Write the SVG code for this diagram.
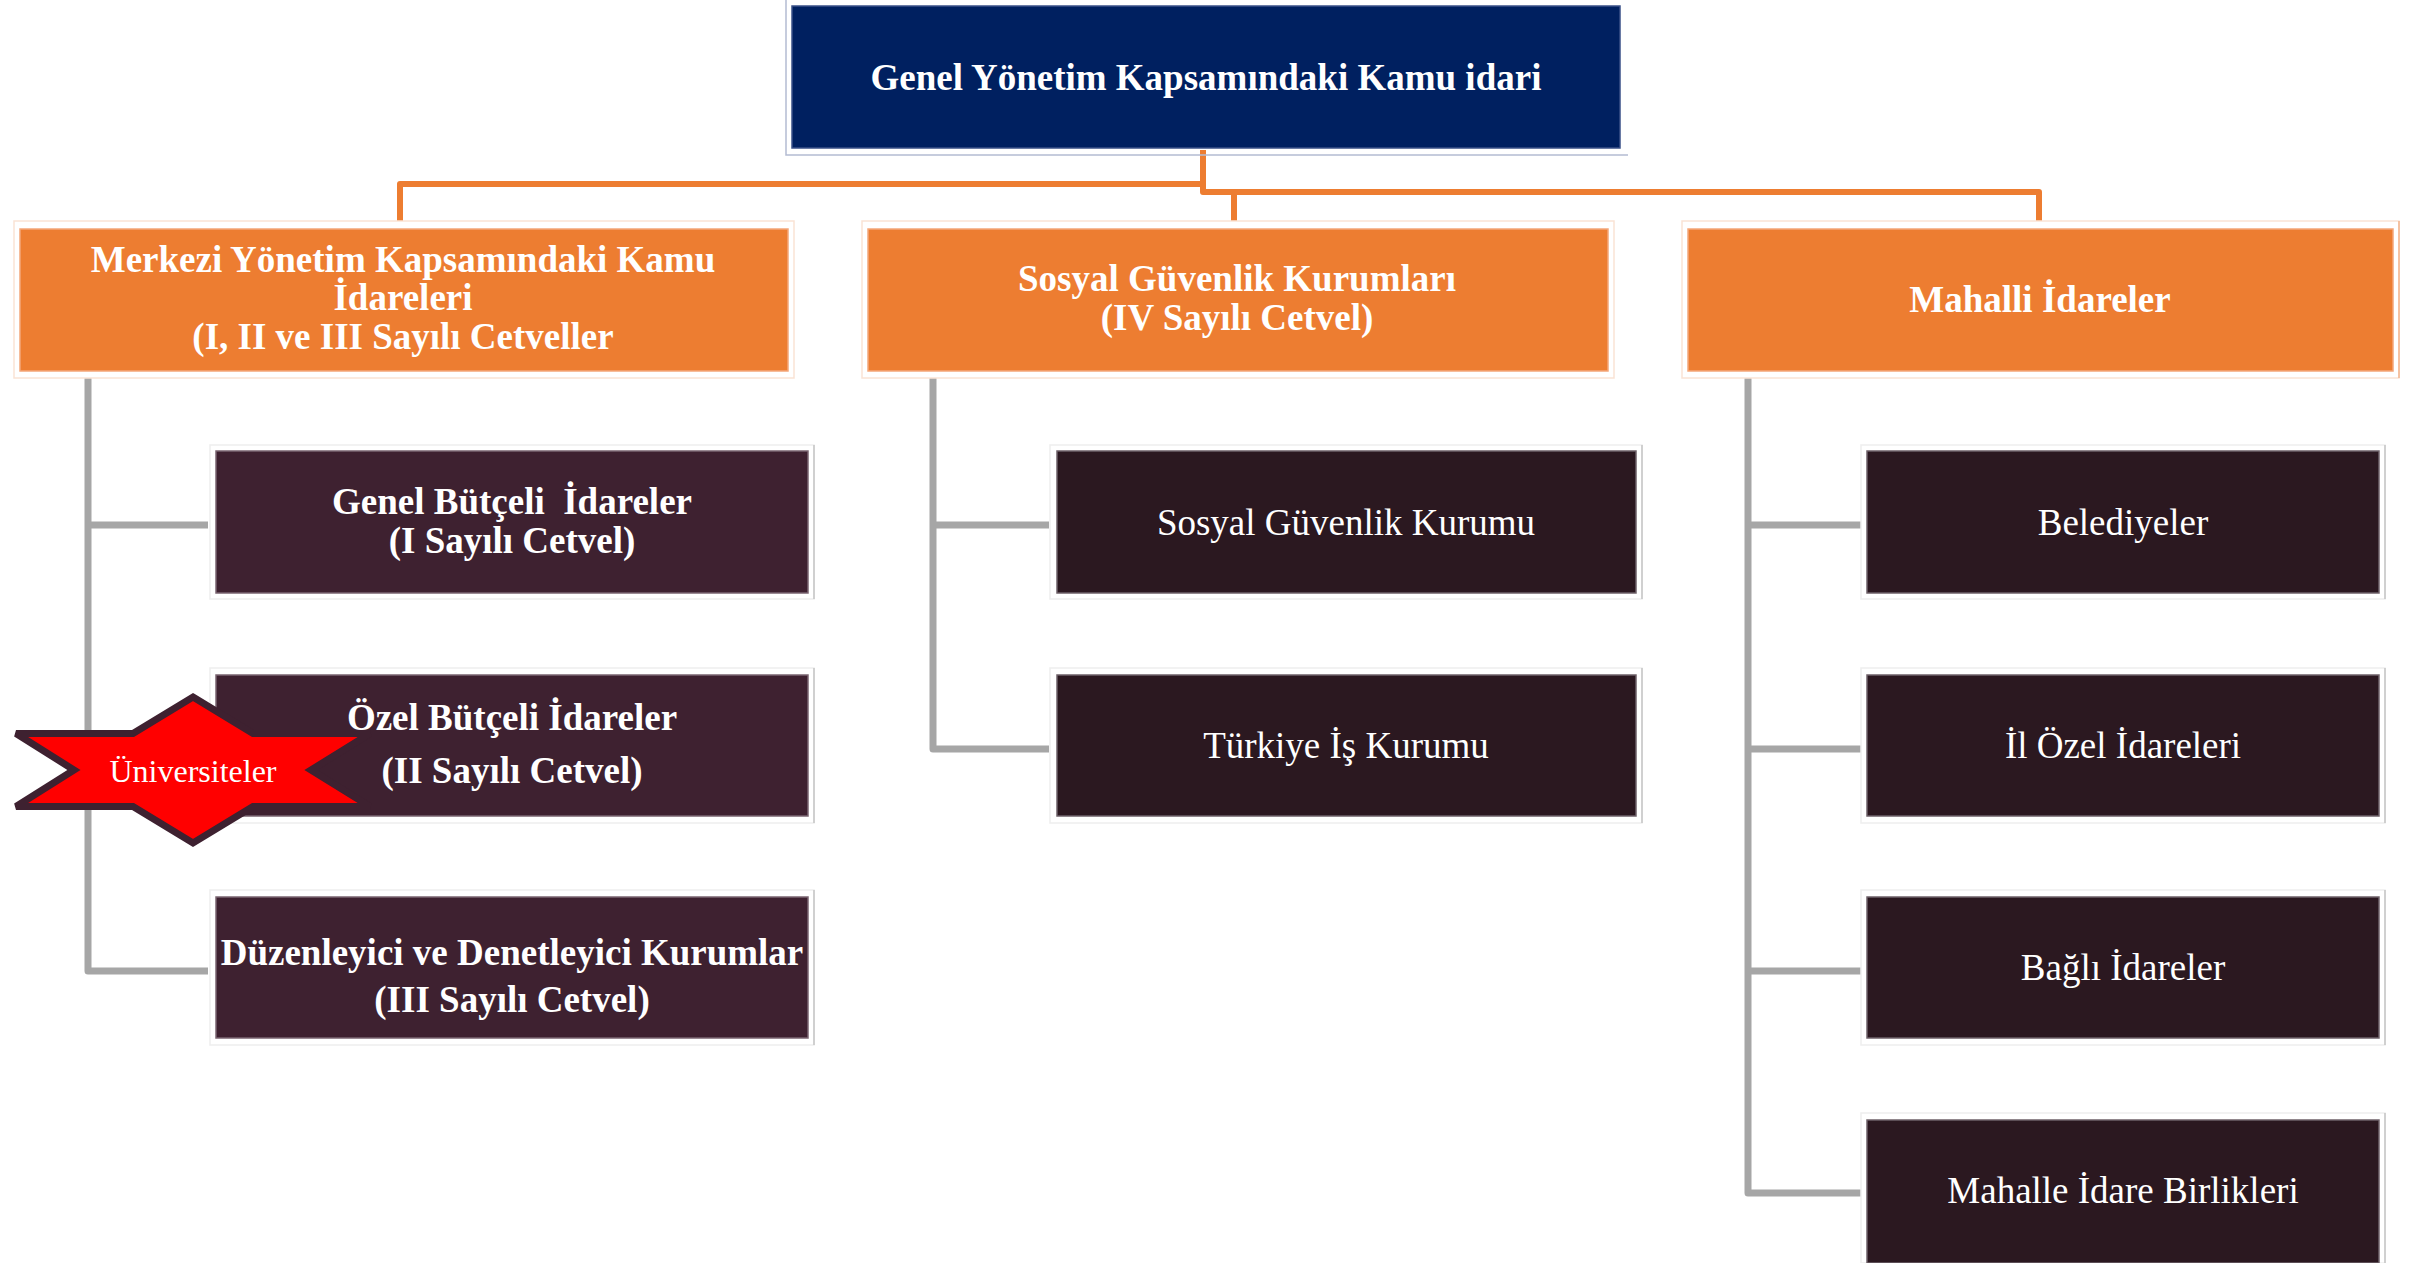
<svg xmlns="http://www.w3.org/2000/svg" width="2422" height="1263" viewBox="0 0 2422 1263">
  <style>
    text { font-family: "Liberation Serif", "Times New Roman", serif; fill: #ffffff; text-anchor: middle; }
    .b { font-weight: bold; font-size: 37px; }
    .r { font-size: 37px; }
    .navy { fill: #002060; stroke: #3A5088; stroke-width: 1.5; }
    .orange { fill: #ED7D31; stroke: #F4A77A; stroke-width: 1.5; }
    .plum { fill: #3E2130; stroke: #7A6470; stroke-width: 1.5; }
    .dark { fill: #2B1820; stroke: #6E6068; stroke-width: 1.5; }
    .frame { fill: none; stroke-width: 1.5; }
    .fo { stroke: #FAE3D5; }
    .fg { stroke: #EEEEEE; }
    .fn { stroke: #B4BCD2; }
    .edge-o { stroke: #F3B58E; stroke-width: 1.5; }
    .edge-g { stroke: #C4C4C4; stroke-width: 1.5; }
    .top-link { fill: none; stroke: #ED7D31; stroke-width: 6; stroke-linejoin: round; }
    .sub-link { fill: none; stroke: #A6A6A6; stroke-width: 7; stroke-linejoin: round; }
  </style>

  <rect width="2422" height="1263" fill="#ffffff"/>

  <!-- connectors -->
  <g id="connectors">
    <path class="top-link" d="M400,221 V184 H1203"/>
    <path class="top-link" d="M1203,150 V192 H2039 V221"/>
    <path class="top-link" d="M1234,192 V221"/>

    <path class="sub-link" d="M88,378 V971 H208"/>
    <path class="sub-link" d="M88,525 H208"/>
    <path class="sub-link" d="M88,749 H208"/>

    <path class="sub-link" d="M933,378 V749 H1049"/>
    <path class="sub-link" d="M933,525 H1049"/>

    <path class="sub-link" d="M1748,378 V1193 H1861"/>
    <path class="sub-link" d="M1748,525 H1861"/>
    <path class="sub-link" d="M1748,749 H1861"/>
    <path class="sub-link" d="M1748,971 H1861"/>
  </g>

  <!-- root -->
  <g id="genel-yonetim">
    <path class="frame fn" d="M786,0 V155 H1628"/>
    <rect class="navy" x="792" y="6" width="828" height="142"/>
    <text class="b" x="1206" y="90">Genel Yönetim Kapsamındaki Kamu idari</text>
  </g>

  <!-- second level -->
  <g id="merkezi-yonetim">
    <rect class="frame fo" x="14" y="221" width="780" height="157"/>
    <rect class="orange" x="20" y="229" width="768" height="142"/>
    <text class="b" x="403" y="272">Merkezi Yönetim Kapsamındaki Kamu</text>
    <text class="b" x="403" y="310">İdareleri</text>
    <text class="b" x="403" y="349">(I, II ve III Sayılı Cetveller</text>
  </g>

  <g id="sosyal-guvenlik-kurumlari">
    <rect class="frame fo" x="862" y="221" width="752" height="157"/>
    <rect class="orange" x="868" y="229" width="740" height="142"/>
    <text class="b" x="1237" y="291">Sosyal Güvenlik Kurumları</text>
    <text class="b" x="1237" y="330">(IV Sayılı Cetvel)</text>
  </g>

  <g id="mahalli-idareler">
    <rect class="frame fo" x="1682" y="221" width="717" height="157"/>
    <line class="edge-o" x1="2399" y1="221" x2="2399" y2="378"/>
    <rect class="orange" x="1688" y="229" width="705" height="142"/>
    <text class="b" x="2040" y="312">Mahalli İdareler</text>
  </g>

  <!-- central government units -->
  <g id="genel-butceli">
    <rect class="frame fg" x="210" y="445" width="604" height="154"/>
    <line class="edge-g" x1="814" y1="445" x2="814" y2="599"/>
    <rect class="plum" x="216" y="451" width="592" height="142"/>
    <text class="b" x="512" y="514" xml:space="preserve">Genel Bütçeli  İdareler</text>
    <text class="b" x="512" y="553">(I Sayılı Cetvel)</text>
  </g>

  <g id="ozel-butceli">
    <rect class="frame fg" x="210" y="668" width="604" height="155"/>
    <line class="edge-g" x1="814" y1="668" x2="814" y2="823"/>
    <rect class="plum" x="216" y="675" width="592" height="141"/>
    <text class="b" x="512" y="730">Özel Bütçeli İdareler</text>
    <text class="b" x="512" y="783">(II Sayılı Cetvel)</text>
  </g>

  <g id="duzenleyici-denetleyici">
    <rect class="frame fg" x="210" y="890" width="604" height="155"/>
    <line class="edge-g" x1="814" y1="890" x2="814" y2="1045"/>
    <rect class="plum" x="216" y="897" width="592" height="141"/>
    <text class="b" x="512" y="965">Düzenleyici ve Denetleyici Kurumlar</text>
    <text class="b" x="512" y="1012">(III Sayılı Cetvel)</text>
  </g>

  <!-- social security units -->
  <g id="sgk">
    <rect class="frame fg" x="1050" y="445" width="592" height="154"/>
    <line class="edge-g" x1="1642" y1="445" x2="1642" y2="599"/>
    <rect class="dark" x="1057" y="451" width="579" height="142"/>
    <text class="r" x="1346" y="535">Sosyal Güvenlik Kurumu</text>
  </g>

  <g id="iskur">
    <rect class="frame fg" x="1050" y="668" width="592" height="155"/>
    <line class="edge-g" x1="1642" y1="668" x2="1642" y2="823"/>
    <rect class="dark" x="1057" y="675" width="579" height="141"/>
    <text class="r" x="1346" y="758">Türkiye İş Kurumu</text>
  </g>

  <!-- local government units -->
  <g id="belediyeler">
    <rect class="frame fg" x="1861" y="445" width="524" height="154"/>
    <line class="edge-g" x1="2385" y1="445" x2="2385" y2="599"/>
    <rect class="dark" x="1867" y="451" width="512" height="142"/>
    <text class="r" x="2123" y="535">Belediyeler</text>
  </g>

  <g id="il-ozel-idareleri">
    <rect class="frame fg" x="1861" y="668" width="524" height="155"/>
    <line class="edge-g" x1="2385" y1="668" x2="2385" y2="823"/>
    <rect class="dark" x="1867" y="675" width="512" height="141"/>
    <text class="r" x="2123" y="758">İl Özel İdareleri</text>
  </g>

  <g id="bagli-idareler">
    <rect class="frame fg" x="1861" y="890" width="524" height="155"/>
    <line class="edge-g" x1="2385" y1="890" x2="2385" y2="1045"/>
    <rect class="dark" x="1867" y="897" width="512" height="141"/>
    <text class="r" x="2123" y="980">Bağlı İdareler</text>
  </g>

  <g id="mahalle-idare-birlikleri">
    <rect class="frame fg" x="1861" y="1113" width="524" height="150"/>
    <line class="edge-g" x1="2385" y1="1113" x2="2385" y2="1263"/>
    <rect class="dark" x="1867" y="1120" width="512" height="143"/>
    <text class="r" x="2123" y="1203">Mahalle İdare Birlikleri</text>
  </g>

  <!-- highlight star over the special-budget box -->
  <g id="universiteler">
    <polygon points="193,697 253,733.5 370,733.5 311,770 370,806.5 253,806.5 193,843 133,806.5 16,806.5 74,770 16,733.5 133,733.5"
             fill="#FF0000" stroke="#3E2130" stroke-width="7" stroke-linejoin="miter" stroke-miterlimit="2"/>
    <text x="193" y="782" style="font-size:32px">Üniversiteler</text>
  </g>
</svg>
